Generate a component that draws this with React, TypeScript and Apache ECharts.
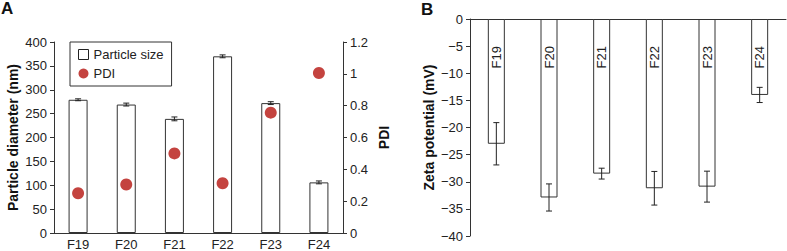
import React, { useEffect, useRef } from "react";
import * as echarts from "echarts";

const categories = ["F19", "F20", "F21", "F22", "F23", "F24"];
const particleSize = [279, 269, 239, 370, 272, 106];
const particleErr = [2, 3, 4, 3, 3, 3];
const pdi = [0.25, 0.305, 0.5, 0.313, 0.756, 1.005];
const zeta = [-23, -32.9, -28.5, -31.2, -30.9, -14.0];
const zetaErr = [3.9, 2.5, 1.0, 3.1, 2.85, 1.4];
const leftTicks = { min: 0, max: 400, interval: 50 };
const pdiTicks = { min: 0, max: 1.2, interval: 0.2 };
const zetaTicks = { min: -40, max: 0, interval: 5 };

const FONT = "'Liberation Sans', Arial, sans-serif";
const AXIS_COLOR = "#333";

function errorSeries(values: number[], errs: number[], xIdx: number, yIdx: number, name: string) {
  return {
    type: "custom",
    name,
    xAxisIndex: xIdx,
    yAxisIndex: yIdx,
    silent: true,
    z: 5,
    data: values.map((v, i) => [i, v - errs[i], v + errs[i]]),
    renderItem: (params: any, api: any) => {
      const x = api.value(0);
      const lo = api.coord([x, api.value(1)]);
      const hi = api.coord([x, api.value(2)]);
      const hw = 3;
      const style = { stroke: "#222", lineWidth: 1 };
      return {
        type: "group",
        children: [
          { type: "line", shape: { x1: lo[0], y1: lo[1], x2: hi[0], y2: hi[1] }, style },
          { type: "line", shape: { x1: lo[0] - hw, y1: lo[1], x2: lo[0] + hw, y2: lo[1] }, style },
          { type: "line", shape: { x1: hi[0] - hw, y1: hi[1], x2: hi[0] + hw, y2: hi[1] }, style },
        ],
      };
    },
  };
}

export default function App() {
  const ref = useRef<HTMLDivElement>(null);
  useEffect(() => {
    if (!ref.current) return;
    const chart = echarts.init(ref.current, null, { renderer: "svg" });
    const tickLabel = { color: "#222", fontSize: 13, fontFamily: FONT };
    const nameStyle = { color: "#111", fontSize: 14, fontWeight: "bold" as const, fontFamily: FONT };
    chart.setOption({
      animation: false,
      backgroundColor: "#fff",
      textStyle: { fontFamily: FONT },
      title: [
        { text: "A", left: 1, top: 0, padding: 0, textStyle: { fontSize: 17, fontWeight: "bold", color: "#111", fontFamily: FONT } },
        { text: "B", left: 421, top: 1, padding: 0, textStyle: { fontSize: 17, fontWeight: "bold", color: "#111", fontFamily: FONT } },
      ],
      legend: {
        left: 70,
        top: 42,
        orient: "vertical",
        borderColor: AXIS_COLOR,
        borderWidth: 1,
        borderRadius: 0,
        padding: [6, 8, 6, 8],
        itemGap: 6,
        itemWidth: 10,
        itemHeight: 10,
        textStyle: { fontSize: 13, color: "#222", fontFamily: FONT },
        data: [
          { name: "Particle size", icon: "rect", itemStyle: { color: "#fff", borderColor: "#222", borderWidth: 1 } },
          { name: "PDI", icon: "circle", itemStyle: { color: "#c4433f" } },
        ],
      },
      grid: [
        { left: 54, right: 444, top: 42, bottom: 18 },
        { left: 470, right: 1, top: 19, bottom: 15 },
      ],
      xAxis: [
        {
          type: "category",
          gridIndex: 0,
          data: categories,
          axisLine: { lineStyle: { color: AXIS_COLOR } },
          axisTick: { inside: true, length: 4, lineStyle: { color: AXIS_COLOR } },
          axisLabel: { ...tickLabel, margin: 5 },
        },
        {
          type: "category",
          gridIndex: 1,
          data: categories,
          position: "top",
          axisLine: { onZero: false, lineStyle: { color: AXIS_COLOR } },
          axisTick: { show: false },
          axisLabel: { show: false },
        },
      ],
      yAxis: [
        {
          type: "value",
          gridIndex: 0,
          ...leftTicks,
          name: "Particle diameter (nm)",
          nameLocation: "middle",
          nameGap: 34,
          nameRotate: 90,
          nameTextStyle: nameStyle,
          axisLine: { show: true, lineStyle: { color: AXIS_COLOR } },
          axisTick: { show: true, length: 4, lineStyle: { color: AXIS_COLOR } },
          axisLabel: { ...tickLabel, margin: 7 },
          splitLine: { show: false },
        },
        {
          type: "value",
          gridIndex: 0,
          position: "right",
          ...pdiTicks,
          name: "PDI",
          nameLocation: "middle",
          nameGap: 34,
          nameRotate: 90,
          nameTextStyle: nameStyle,
          axisLine: { show: true, lineStyle: { color: AXIS_COLOR } },
          axisTick: { show: true, length: 4, lineStyle: { color: AXIS_COLOR } },
          axisLabel: { ...tickLabel, margin: 7 },
          splitLine: { show: false },
        },
        {
          type: "value",
          gridIndex: 1,
          ...zetaTicks,
          name: "Zeta potential (mV)",
          nameLocation: "middle",
          nameGap: 34,
          nameRotate: 90,
          nameTextStyle: nameStyle,
          axisLine: { show: true, lineStyle: { color: AXIS_COLOR } },
          axisTick: { show: true, length: 4, lineStyle: { color: AXIS_COLOR } },
          axisLabel: {
            ...tickLabel,
            margin: 7,
            formatter: (v: number) => (v < 0 ? "\u2212" + Math.abs(v) : String(v)),
          },
          splitLine: { show: false },
        },
      ],
      series: [
        {
          name: "Particle size",
          type: "bar",
          xAxisIndex: 0,
          yAxisIndex: 0,
          data: particleSize,
          barWidth: 19,
          itemStyle: { color: "#fff", borderColor: "#333", borderWidth: 1 },
        },
        errorSeries(particleSize, particleErr, 0, 0, "sizeErr"),
        {
          name: "PDI",
          type: "scatter",
          xAxisIndex: 0,
          yAxisIndex: 1,
          data: pdi,
          symbol: "circle",
          symbolSize: 12,
          z: 6,
          itemStyle: { color: "#c4433f", opacity: 1 },
        },
        {
          name: "Zeta",
          type: "bar",
          xAxisIndex: 1,
          yAxisIndex: 2,
          data: zeta,
          barWidth: 17,
          itemStyle: { color: "#fff", borderColor: "#333", borderWidth: 1 },
        },
        errorSeries(zeta, zetaErr, 1, 2, "zetaErr"),
        {
          type: "custom",
          name: "zetaLabels",
          xAxisIndex: 1,
          yAxisIndex: 2,
          silent: true,
          z: 7,
          data: categories.map((c, i) => [i, 0]),
          renderItem: (params: any, api: any) => {
            const p = api.coord([api.value(0), api.value(1)]);
            return {
              type: "text",
              x: p[0],
              y: p[1] + 27,
              rotation: Math.PI / 2,
              style: {
                text: categories[params.dataIndex],
                fill: "#222",
                fontSize: 13,
                fontFamily: FONT,
                align: "right",
                verticalAlign: "middle",
              },
            };
          },
        },
      ],
    });
    return () => chart.dispose();
  }, []);
  return (
    <div
      ref={ref}
      style={{ position: "absolute", left: 0, top: 0, width: 787, height: 251 }}
    />
  );
}
